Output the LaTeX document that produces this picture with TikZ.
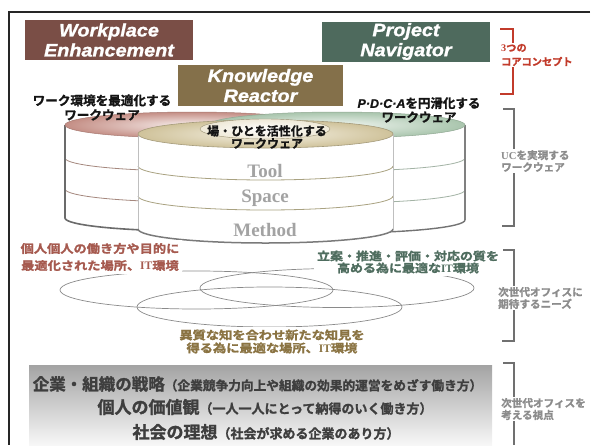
\documentclass[tikz,border=0pt]{standalone}
\usepackage{fontspec}
\setmainfont{Liberation Serif}
\newfontfamily\jp{Noto Sans CJK JP Bold}[FakeBold=1.4]
\newfontfamily\jpw{Noto Sans CJK JP Bold}[FakeStretch=1.15, FakeBold=1.6]
\newfontfamily\ttl{Liberation Sans}[FakeStretch=1.1, BoldItalicFeatures={FakeBold=1.3}]
\newfontfamily\lsans{Liberation Sans}[BoldItalicFeatures={FakeBold=1.2}]
\newfontfamily\lserif{Liberation Serif}

\definecolor{wpbrown}{HTML}{7A4E46}
\definecolor{pngreen}{HTML}{4E6A5D}
\definecolor{krolive}{HTML}{84704A}
\definecolor{corered}{HTML}{C23B2B}
\definecolor{brgray}{HTML}{8C8C8C}
\definecolor{bracketgray}{HTML}{707070}
\definecolor{needred}{HTML}{A65A4F}
\definecolor{needgreen}{HTML}{4F6D5F}
\definecolor{needolive}{HTML}{8A7342}
\definecolor{boxtext}{HTML}{3E3E3E}
\definecolor{layergray}{HTML}{A3A3A3}
\definecolor{ringgray}{HTML}{8A8A8A}
\definecolor{pinkrim}{HTML}{C48E85}
\definecolor{pinkin}{HTML}{F8F0EE}
\definecolor{beigerim}{HTML}{CFC29A}
\definecolor{beigein}{HTML}{F6F2E6}
\definecolor{greenrim}{HTML}{A9C5AD}
\definecolor{greenin}{HTML}{F0F5F0}
\definecolor{bandpink}{HTML}{A5887E}
\definecolor{bandolive}{HTML}{A9A281}
\definecolor{bandgreen}{HTML}{A3B3A5}

\begin{document}
\begin{tikzpicture}[x=1pt,y=-1pt,
  titlebox/.style={minimum width=168pt, minimum height=40pt, inner sep=0pt,
    text=white, align=center, font=\ttl\bfseries\itshape\fontsize{18}{20}\selectfont},
  cyltext/.style={align=center, inner sep=0pt, text=black!92},
  layertext/.style={anchor=base, inner sep=0pt, text=layergray,
    font=\lserif\bfseries\fontsize{19}{19}\selectfont},
  needtext/.style={align=center, fill=white, inner sep=3pt},
  bracket/.style={draw=bracketgray, line width=1.1pt},
  bracketlabel/.style={anchor=west, fill=white, inner sep=1pt, align=left,
    text=brgray, font=\jp\fontsize{10.6}{12}\selectfont},
  needring/.style={draw=ringgray, line width=0.7pt},
  boxline/.style={text=boxtext, inner sep=0pt},
  bandline/.style={line width=0.8pt},
  rimdark/.style={draw=black!58, line width=1.6pt},
  rimlight/.style={draw=black!25, line width=0.7pt}
]
\useasboundingbox (0,0) rectangle (592,445);

% outer frame
\draw[line width=2pt, black!85] (590,12) -- (9,12) -- (9,445);

% ---- three drums ----
% left drum (pink top)
\path[fill=white] (65,125) -- (65,218) arc[start angle=180,end angle=360,x radius=127pt,y radius=13pt] -- (319,125) -- cycle;
\draw[bandline, bandpink] (65,158) arc[start angle=180,end angle=360,x radius=127pt,y radius=13pt];
\draw[bandline, bandpink] (65,189) arc[start angle=180,end angle=360,x radius=127pt,y radius=13pt];
\draw[rimdark] (65,125) -- (65,218) arc[start angle=180,end angle=360,x radius=127pt,y radius=13pt];
\shade[inner color=pinkin, outer color=pinkrim] (192,125) ellipse[x radius=127pt,y radius=13pt];
\draw[pinkrim!85!black, line width=0.5pt] (192,125) ellipse[x radius=127pt,y radius=13pt];

% right drum (green top)
\path[fill=white] (209,125) -- (209,220) arc[start angle=180,end angle=360,x radius=128pt,y radius=13pt] -- (465,125) -- cycle;
\draw[bandline, bandgreen] (209,158) arc[start angle=180,end angle=360,x radius=128pt,y radius=13pt];
\draw[bandline, bandgreen] (209,190) arc[start angle=180,end angle=360,x radius=128pt,y radius=13pt];
\draw[draw=black!50, line width=1.5pt] (465,125) -- (465,220);
\draw[draw=black!55, line width=1.4pt] (209,220) arc[start angle=180,end angle=360,x radius=128pt,y radius=13pt];
\shade[inner color=greenin, outer color=greenrim] (337,125) ellipse[x radius=128pt,y radius=13pt];
\draw[greenrim!85!black, line width=0.5pt] (337,125) ellipse[x radius=128pt,y radius=13pt];

% front drum (beige top)
\path[fill=white] (138,134) -- (138,229) arc[start angle=180,end angle=360,x radius=127.5pt,y radius=14pt] -- (393,134) -- cycle;
\draw[bandline, bandolive] (138,166) arc[start angle=180,end angle=360,x radius=127.5pt,y radius=14pt];
\draw[bandline, bandolive] (138,196) arc[start angle=180,end angle=360,x radius=127.5pt,y radius=14pt];
\draw[rimlight] (138,134) -- (138,229);
\draw[rimlight] (393,134) -- (393,229);
\draw[draw=black!52, line width=1.5pt] (138,229) arc[start angle=180,end angle=360,x radius=127.5pt,y radius=14pt];
\shade[inner color=beigein, outer color=beigerim] (265.5,134) ellipse[x radius=127.5pt,y radius=14pt];
\draw[beigerim!80!black, line width=0.6pt] (265.5,134) ellipse[x radius=127.5pt,y radius=14pt];
\shade[inner color=white, outer color=beigein!80!beigerim] (265,129) ellipse[x radius=65pt,y radius=10pt];
\draw[beigerim!75!black, line width=0.4pt] (265,129) ellipse[x radius=65pt,y radius=10pt];

% layer names on the front drum
\node[layertext] (tool) at (265,177) {Tool};
\node[layertext] (space) at (265,202) {Space};
\node[layertext] (method) at (265,236) {Method};

% ---- core concept boxes ----
\node[titlebox, fill=wpbrown] (wp) at (109,40) {Workplace\\Enhancement};
\node[titlebox, fill=pngreen] (pn) at (406,41.5) {Project\\Navigator};
\node[titlebox, fill=krolive, minimum width=165pt, minimum height=41pt] (kr) at (260.5,85.5) {Knowledge\\Reactor};

% captions of the drum tops
\node[cyltext, font=\jp\fontsize{12.6}{14.5}\selectfont] (capwp) at (102,107.5) {ワーク環境を最適化する\\ワークウェア};
\node[cyltext, font=\jp\fontsize{12.5}{14}\selectfont] (cappn) at (419,110) {{\lsans\bfseries\itshape P·D·C·A}を円滑化する\\ワークウェア};
\node[cyltext, font=\jp\fontsize{12}{12.5}\selectfont] (capkr) at (267,137) {場・ひとを活性化する\\ワークウェア};

% ---- needs: three overlapping rings ----
\draw[needring] (196.5,290) ellipse[x radius=136.5pt,y radius=19pt];
\draw[needring] (337,288) ellipse[x radius=137pt,y radius=19.5pt];
\draw[needring] (269.5,307) ellipse[x radius=132.5pt,y radius=20pt];

\node[needtext, text=needred, font=\jpw\fontsize{11.5}{17}\selectfont] (needwp) at (100,257)
  {個人個人の働き方や目的に\\最適化された場所、{\lserif\bfseries IT}環境};
\node[needtext, text=needgreen, font=\jpw\fontsize{11.3}{12}\selectfont] (needpn) at (408,262)
  {立案・推進・評価・対応の質を\\高める為に最適な{\lserif\bfseries IT}環境};
\node[needtext, text=needolive, font=\jpw\fontsize{11.5}{13}\selectfont] (needkr) at (272,341.5)
  {異質な知を合わせ新たな知見を\\得る為に最適な場所、{\lserif\bfseries IT}環境};

% ---- viewpoints panel ----
\shade[top color=black!36, bottom color=black!3] (29,365) rectangle (492,445);
\node[boxline] (view1) at (257.5,384) {\jp\fontsize{16.5}{18}\selectfont 企業・組織の戦略\fontsize{12.7}{14}\selectfont（企業競争力向上や組織の効果的運営をめざす働き方）};
\node[boxline] (view2) at (265,407) {\jp\fontsize{17}{18}\selectfont 個人の価値観\fontsize{13}{14}\selectfont（一人一人にとって納得のいく働き方）};
\node[boxline] (view3) at (266,432) {\jp\fontsize{17}{18}\selectfont 社会の理想\fontsize{13}{14}\selectfont（社会が求める企業のあり方）};

% ---- brackets on the right ----
\draw[bracket, draw=corered] (500,29) -- (513,29) -- (513,94) -- (500,94);
\node[bracketlabel, text=corered, font=\jp\fontsize{10.2}{14}\selectfont] (lblcore) at (500,55) {{\lserif\bfseries 3}つの\\コアコンセプト};

\draw[bracket] (503,109) -- (514,109) -- (514,226) -- (502,226);
\node[bracketlabel] (lbluc) at (500,161) {{\lserif\bfseries UC}を実現する\\ワークウェア};

\draw[bracket] (503,250) -- (514,250) -- (514,341) -- (502,341);
\node[bracketlabel] (lblneeds) at (497,298) {次世代オフィスに\\期待するニーズ};

\draw[bracket] (503,363) -- (514,363) -- (514,445);
\node[bracketlabel] (lblview) at (500,409) {次世代オフィスを\\考える視点};
\end{tikzpicture}
\end{document}
